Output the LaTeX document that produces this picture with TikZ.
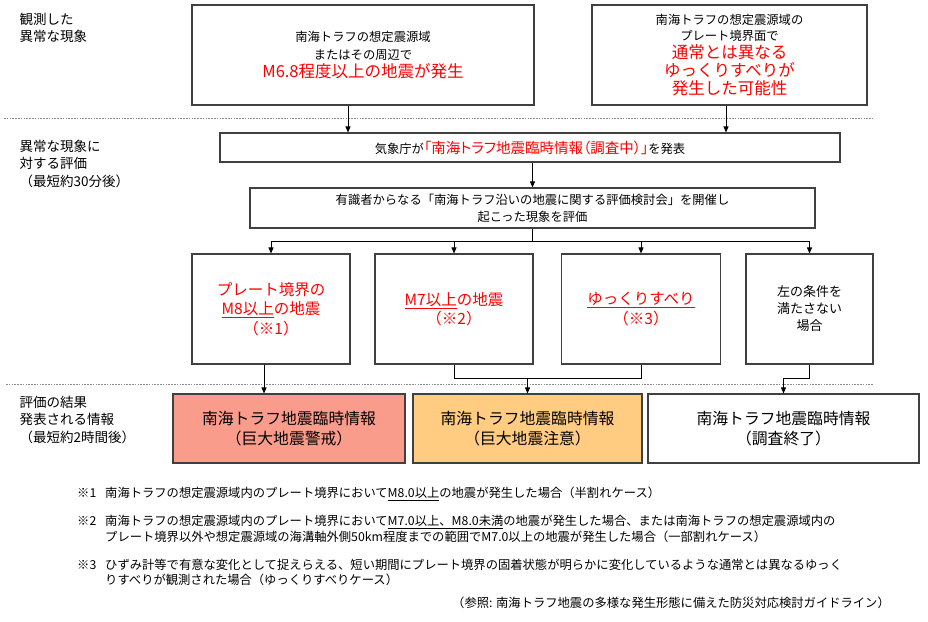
\documentclass[tikz,border=0pt]{standalone}
\usepackage{fontspec}
\setmainfont{Noto Sans CJK JP}
\usetikzlibrary{arrows.meta}
\definecolor{alertred}{HTML}{FF0000}
\definecolor{warnfill}{HTML}{FA9C8B}
\definecolor{cautionfill}{HTML}{FFCC82}
\definecolor{framegray}{HTML}{404040}
\definecolor{sepgray}{HTML}{8C8C8C}
\newcommand{\fs}[2]{\fontsize{#1}{#2}\selectfont}
\newcommand{\bigred}[1]{{\color{alertred}\fs{16.5}{18}#1}}
\newcommand{\narrow}{\addfontfeatures{RawFeature=+palt}}

\begin{document}
\begin{tikzpicture}[x=1pt,y=-1pt,
    box/.style={draw=framegray,line width=1.1pt,align=center,inner sep=1pt,font=\fs{12.3}{18}},
    redbox/.style={box,text=alertred,font=\fs{15.5}{19.5}},
    result/.style={box,minimum width=#1,minimum height=69pt,font=\fs{15.8}{20}},
    arr/.style={-{Triangle[length=6pt,width=5pt]},line width=0.8pt},
    sep/.style={sepgray,line width=0.9pt,dash pattern=on 1.6pt off 1.2pt},
    lbl/.style={anchor=west,align=left,font=\fs{13.5}{17.5}},
    fnote/.style={anchor=base west,inner sep=0pt,font=\fs{12.3}{16}}]
  \useasboundingbox (0,0) rectangle (928,621);
  % separators
  \draw[sep] (4,118) -- (873,118);
  \draw[sep] (6,384) -- (874,384);
  % row labels
  \node[lbl] (lab1) at (16,28) {観測した\\異常な現象};
  \node[lbl] (lab2) at (16,163.5) {異常な現象に\\対する評価\\（最短約30分後）};
  \node[lbl] (lab3) at (16,419.5) {評価の結果\\発表される情報\\（最短約2時間後）};
  % observed phenomena
  \node[box,minimum width=342pt,minimum height=100pt] (quake) at (363,55)
    {南海トラフの想定震源域\\またはその周辺で\\\bigred{M6.8程度以上の地震が発生}};
  \node[box,minimum width=275pt,minimum height=100pt] (slip) at (729.5,55)
    {南海トラフの想定震源域の\\[-2.5pt]プレート境界面で\\\bigred{通常とは異なる}\\\bigred{ゆっくりすべりが}\\\bigred{発生した可能性}};
  % evaluation
  \node[box,minimum width=620pt,minimum height=29pt] (jma) at (530,147.5)
    {気象庁が{\color{alertred}\fs{14.5}{18}\narrow「南海トラフ地震臨時情報（調査中）」}を発表};
  \node[box,minimum width=565pt,minimum height=40pt] (panel) at (532.5,208)
    {有識者からなる「南海トラフ沿いの地震に関する評価検討会」を開催し\\[-1pt]起こった現象を評価};
  \node[redbox,minimum width=158pt,minimum height=110pt] (m8) at (271,309)
    {プレート境界の\\\underline{M8以上}の地震\\（※1）};
  \node[redbox,minimum width=158pt,minimum height=110pt] (m7) at (454,309)
    {\underline{M7以上}の地震\\（※2）};
  \node[redbox,minimum width=159pt,minimum height=110pt] (slow) at (641,309)
    {\underline{ゆっくりすべり}\\（※3）};
  \node[box,minimum width=127pt,minimum height=110pt,font=\fs{13}{17}] (other) at (809.5,309)
    {左の条件を\\満たさない\\場合};
  % issued information
  \node[result=232pt,fill=warnfill] (warn) at (289,428.5) {南海トラフ地震臨時情報\\（巨大地震警戒）};
  \node[result=229pt,fill=cautionfill] (caution) at (527.5,428.5) {南海トラフ地震臨時情報\\（巨大地震注意）};
  \node[result=271pt] (closed) at (783.5,428.5) {南海トラフ地震臨時情報\\（調査終了）};
  % connectors
  \draw[arr] ([xshift=-15pt]quake.south) -- ([xshift=-15pt]quake.south |- jma.north);
  \draw[arr] ([xshift=-3.5pt]slip.south) -- ([xshift=-3.5pt]slip.south |- jma.north);
  \draw[arr] (panel.north |- jma.south) -- (panel.north);
  \draw[line width=0.8pt] (panel.south) -- ++(0,13) coordinate (split);
  \foreach \b in {m8,m7,slow,other}
    \draw[arr] (split) -| (\b.north);
  \draw[arr] ([xshift=-7pt]m8.south) -- ([xshift=-7pt]m8.south |- warn.north);
  \draw[line width=0.8pt] (m7.south) -- ++(0,14) coordinate (join) -| (slow.south);
  \draw[arr] (join -| caution.north) -- (caution.north);
  \draw[arr] (other.south) -- ++(0,14) -| (closed.north);
  % notes
  \foreach \n/\y in {1/497.7,2/525.7,3/569.7}
    \node[fnote] (mark\n) at (77,\y) {※\n};
  \node[fnote] (note1) at (105,497.7) {南海トラフの想定震源域内のプレート境界において\underline{M8.0以上}の地震が発生した場合（半割れケース）};
  \node[fnote] (note2a) at (105,525.7) {南海トラフの想定震源域内のプレート境界において\underline{M7.0以上、M8.0未満}の地震が発生した場合、または南海トラフの想定震源域内の};
  \node[fnote] (note2b) at (105,541.7) {プレート境界以外や想定震源域の海溝軸外側50km程度までの範囲でM7.0以上の地震が発生した場合（一部割れケース）};
  \node[fnote] (note3a) at (105,569.7) {ひずみ計等で有意な変化として捉えらえる、短い期間にプレート境界の固着状態が明らかに変化しているような通常とは異なるゆっく};
  \node[fnote] (note3b) at (105,584.7) {りすべりが観測された場合（ゆっくりすべりケース）};
  \node[fnote,anchor=base east] (source) at (890,607.7) {（参照: 南海トラフ地震の多様な発生形態に備えた防災対応検討ガイドライン）};
\end{tikzpicture}
\end{document}
